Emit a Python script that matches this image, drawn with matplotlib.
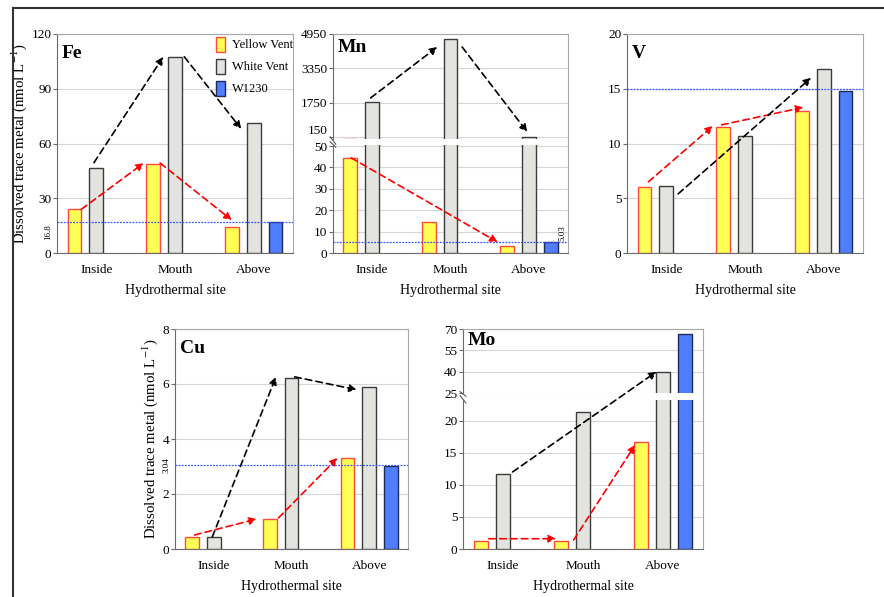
import matplotlib
matplotlib.use("Agg")
import matplotlib.pyplot as plt
import numpy as np
from matplotlib.patches import Patch, ConnectionPatch
from matplotlib.lines import Line2D
from matplotlib import transforms

plt.rcParams['font.family'] = ['Liberation Serif', 'DejaVu Serif']
plt.rcParams['mathtext.fontset'] = 'stix'

# data
sites = ['Inside', 'Mouth', 'Above']

fe_yellow = [24.0, 48.5, 14.4]
fe_white = [46.5, 107.5, 71.5]
fe_w1230 = 16.8
fe_ref = 16.8

mn_yellow = [44.5, 14.3, 3.4]
mn_white = [1780, 4720, 160]
mn_w1230 = 5.03
mn_ref = 5.03

v_yellow = [6.0, 11.5, 13.0]
v_white = [6.1, 10.7, 16.8]
v_w1230 = 14.8
v_ref = 15.0

cu_yellow = [0.45, 1.09, 3.31]
cu_white = [0.43, 6.22, 5.89]
cu_w1230 = 3.03
cu_ref = 3.04

mo_yellow = [1.2, 1.3, 16.6]
mo_white = [11.7, 21.3, 40.0]
mo_w1230 = 66.7

YEL, YEL_E = '#FFFF55', '#FF4B3A'
WHT, WHT_E = '#E3E3DF', '#3C3C3C'
BLU, BLU_E = '#4F7EFF', '#1E2A58'

X = np.arange(3)
D = 0.278   # spacing of bars inside a group
BW = 0.177  # bar width

PX_W, PX_H = 884, 597
fig = plt.figure(figsize=(PX_W / 100, PX_H / 100), dpi=100)


def rect(x0, y0, x1, y1):
    return [x0 / PX_W, 1 - y1 / PX_H, (x1 - x0) / PX_W, (y1 - y0) / PX_H]


def style(ax, ticks, ylim, xaxis=True):
    ax.set_xlim(-0.5, 2.5)
    ax.set_ylim(*ylim)
    ax.set_yticks(ticks)
    ax.yaxis.grid(True, color='#D6D6D6', lw=0.8, zorder=0)
    ax.set_axisbelow(True)
    for s in ['top', 'right']:
        ax.spines[s].set_color('#A8A8A8')
    for s in ['left', 'bottom']:
        ax.spines[s].set_color('#6A6A6A')
    ax.tick_params(axis='y', labelsize=9.5, length=3, color='#6A6A6A', pad=1)
    if xaxis:
        ax.set_xticks(X)
        ax.set_xticklabels(sites, fontsize=9.5)
        ax.tick_params(axis='x', length=0, pad=8)
        ax.set_xlabel('Hydrothermal site', fontsize=10, labelpad=6)
    else:
        ax.set_xticks([])


def bars(ax, yel, wht, blu):
    ax.bar(X - D, yel, BW, color=YEL, edgecolor=YEL_E, lw=1, zorder=3)
    ax.bar(X, wht, BW, color=WHT, edgecolor=WHT_E, lw=1, zorder=3)
    ax.bar([X[2] + D], [blu], BW, color=BLU, edgecolor=BLU_E, lw=1, zorder=3)


def ref_line(ax, y):
    ax.axhline(y, color='#3A55FF', lw=0.9, ls=(0, (1.5, 1)), zorder=4)


def top(vals, i, slot, dx=0.0, dy=0.0):
    return (X[i] + slot * D + dx, vals[i] + dy)


def arrow(ax0, p0, p1, color, ax1=None):
    ax1 = ax1 or ax0
    con = ConnectionPatch(xyA=p0, coordsA=ax0.transData, xyB=p1, coordsB=ax1.transData,
                          arrowstyle='-|>', color=color, lw=1.2, ls=(0, (4, 2.5)),
                          mutation_scale=11, shrinkA=0, shrinkB=0, zorder=6)
    fig.add_artist(con)


def tag(ax, s):
    ax.text(0.02, 0.95, s, transform=ax.transAxes, fontsize=14, fontweight='bold',
            va='top', ha='left', zorder=7)


def break_marks(ax_up, ax_lo):
    kw = dict(color='#555555', lw=0.8, clip_on=False)
    ax_up.plot([-0.012, 0.012], [0.02, -0.05], transform=ax_up.transAxes, **kw)
    ax_lo.plot([-0.012, 0.012], [1.03, 0.98], transform=ax_lo.transAxes, **kw)


YLAB = 'Dissolved trace metal (nmol L$^{-1}$)'

# ---------------- Fe ----------------
ax = fig.add_axes(rect(57, 34, 293, 253))
style(ax, [0, 30, 60, 90, 120], (0, 120))
bars(ax, fe_yellow, fe_white, fe_w1230)
ref_line(ax, fe_ref)
ax.text(-0.02, fe_ref - 1, '16.8', transform=transforms.blended_transform_factory(ax.transAxes, ax.transData),
        rotation=90, fontsize=6.5, ha='right', va='top')
ax.set_ylabel(YLAB, fontsize=10.7, labelpad=2)
tag(ax, 'Fe')
handles = [Patch(facecolor=YEL, edgecolor=YEL_E, lw=1),
           Patch(facecolor=WHT, edgecolor=WHT_E, lw=1),
           Patch(facecolor=BLU, edgecolor=BLU_E, lw=1)]
ax.legend(handles, ['Yellow Vent', 'White Vent', 'W1230'], loc='upper right', frameon=False,
          fontsize=9, handlelength=0.75, handleheight=1.5, handletextpad=0.5,
          labelspacing=0.55, borderaxespad=0.1, borderpad=0.1,
          bbox_to_anchor=(1.01, 1.0))
arrow(ax, top(fe_yellow, 0, -1, BW / 2), top(fe_yellow, 1, -1, -BW / 2 - 0.03, 0.8), 'red')
arrow(ax, top(fe_yellow, 1, -1, BW / 2, 0.8), top(fe_yellow, 2, -1, 0, 3.6), 'red')
arrow(ax, top(fe_white, 0, 0, -0.03, 3), top(fe_white, 1, 0, -BW / 2 - 0.06), 'black')
arrow(ax, top(fe_white, 1, 0, BW / 2 + 0.03), top(fe_white, 2, 0, -BW / 2 - 0.07, -3.5), 'black')

# ---------------- Mn (broken axis) ----------------
mu = fig.add_axes(rect(333, 34, 568, 139))
ml = fig.add_axes(rect(333, 145, 568, 253))
style(mu, [150, 1750, 3350, 4950], (57, 4950), xaxis=False)
style(ml, [0, 10, 20, 30, 40, 50], (0, 50.5))
mu.get_yticklabels()[0].set_va('bottom')
mu.spines['bottom'].set_visible(False)
ml.spines['top'].set_visible(False)
bars(mu, mn_yellow, mn_white, mn_w1230)
bars(ml, mn_yellow, mn_white, mn_w1230)
ref_line(ml, mn_ref)
ml.text(0.995, mn_ref + 0.8, '5.03', transform=transforms.blended_transform_factory(ml.transAxes, ml.transData),
        rotation=90, fontsize=6.5, ha='right', va='bottom')
break_marks(mu, ml)
tag(mu, 'Mn')
arrow(mu, top(mn_white, 0, 0, -0.02, 190), top(mn_white, 1, 0, -BW / 2 - 0.08, -376), 'black')
arrow(mu, top(mn_white, 1, 0, BW / 2 + 0.06, -376), top(mn_white, 2, 0, -0.02, 223), 'black')
arrow(ml, top(mn_yellow, 0, -1, 0.01), top(mn_yellow, 2, -1, -0.12, 1.7), 'red')

# ---------------- V ----------------
ax = fig.add_axes(rect(627, 34, 863, 253))
style(ax, [0, 5, 10, 15, 20], (0, 20))
bars(ax, v_yellow, v_white, v_w1230)
ref_line(ax, v_ref)
tag(ax, 'V')
arrow(ax, top(v_yellow, 0, -1, 0.05, 0.5), top(v_yellow, 1, -1, -0.13, 0.1), 'red')
arrow(ax, top(v_yellow, 1, -1, -0.02, 0.2), top(v_yellow, 2, -1, 0.02, 0.3), 'red')
arrow(ax, top(v_white, 0, 0, 0.15, -0.7), top(v_white, 2, 0, -0.16, -0.8), 'black')

# ---------------- Cu ----------------
ax = fig.add_axes(rect(175, 329, 408, 549))
style(ax, [0, 2, 4, 6, 8], (0, 8))
bars(ax, cu_yellow, cu_white, cu_w1230)
ref_line(ax, cu_ref)
ax.text(-0.018, cu_ref, '3.04', transform=transforms.blended_transform_factory(ax.transAxes, ax.transData),
        rotation=90, fontsize=6.5, ha='right', va='center')
ax.set_ylabel(YLAB, fontsize=10.7, labelpad=2)
tag(ax, 'Cu')
arrow(ax, top(cu_white, 0, 0, -0.02, 0.01), top(cu_white, 1, 0, -0.2, 0.04), 'black')
arrow(ax, top(cu_white, 1, 0, 0.04, 0.04), top(cu_white, 2, 0, -0.16, -0.1), 'black')
arrow(ax, top(cu_yellow, 0, -1, 0.03, 0.06), top(cu_yellow, 1, -1, -0.17), 'red')
arrow(ax, top(cu_yellow, 1, -1, 0.11, 0.04), top(cu_yellow, 2, -1, -0.13), 'red')

# ---------------- Mo (broken axis) ----------------
ou = fig.add_axes(rect(463, 329, 703, 393))
ol = fig.add_axes(rect(463, 400, 703, 549))
style(ou, [25, 40, 55, 70], (25, 70), xaxis=False)
style(ol, [0, 5, 10, 15, 20], (0, 23.2))
ou.spines['bottom'].set_visible(False)
ol.spines['top'].set_visible(False)
bars(ou, mo_yellow, mo_white, mo_w1230)
bars(ol, mo_yellow, mo_white, mo_w1230)
break_marks(ou, ol)
tag(ou, 'Mo')
arrow(ol, top(mo_white, 0, 0, 0.12, 0.3), top(mo_white, 2, 0, -0.08), 'black', ax1=ou)
arrow(ol, top(mo_yellow, 0, -1, 0.1, 0.4), top(mo_yellow, 1, -1, -0.06, 0.3), 'red')
arrow(ol, top(mo_yellow, 1, -1, 0.16, 0.1), top(mo_yellow, 2, -1, -0.07, -0.4), 'red')

# right spine continues across the breaks
for x, y0, y1 in [(568, 139, 145), (703, 393, 400)]:
    fig.add_artist(Line2D([x / PX_W] * 2, [1 - y0 / PX_H, 1 - y1 / PX_H], color='#A8A8A8', lw=0.8))

# outer frame (top and left edges)
fig.add_artist(Line2D([13 / PX_W, 1], [1 - 8 / PX_H] * 2, color='#333333', lw=1.5))
fig.add_artist(Line2D([13 / PX_W] * 2, [0, 1 - 8 / PX_H], color='#333333', lw=1.5))

fig.savefig('out.png', dpi=100)
